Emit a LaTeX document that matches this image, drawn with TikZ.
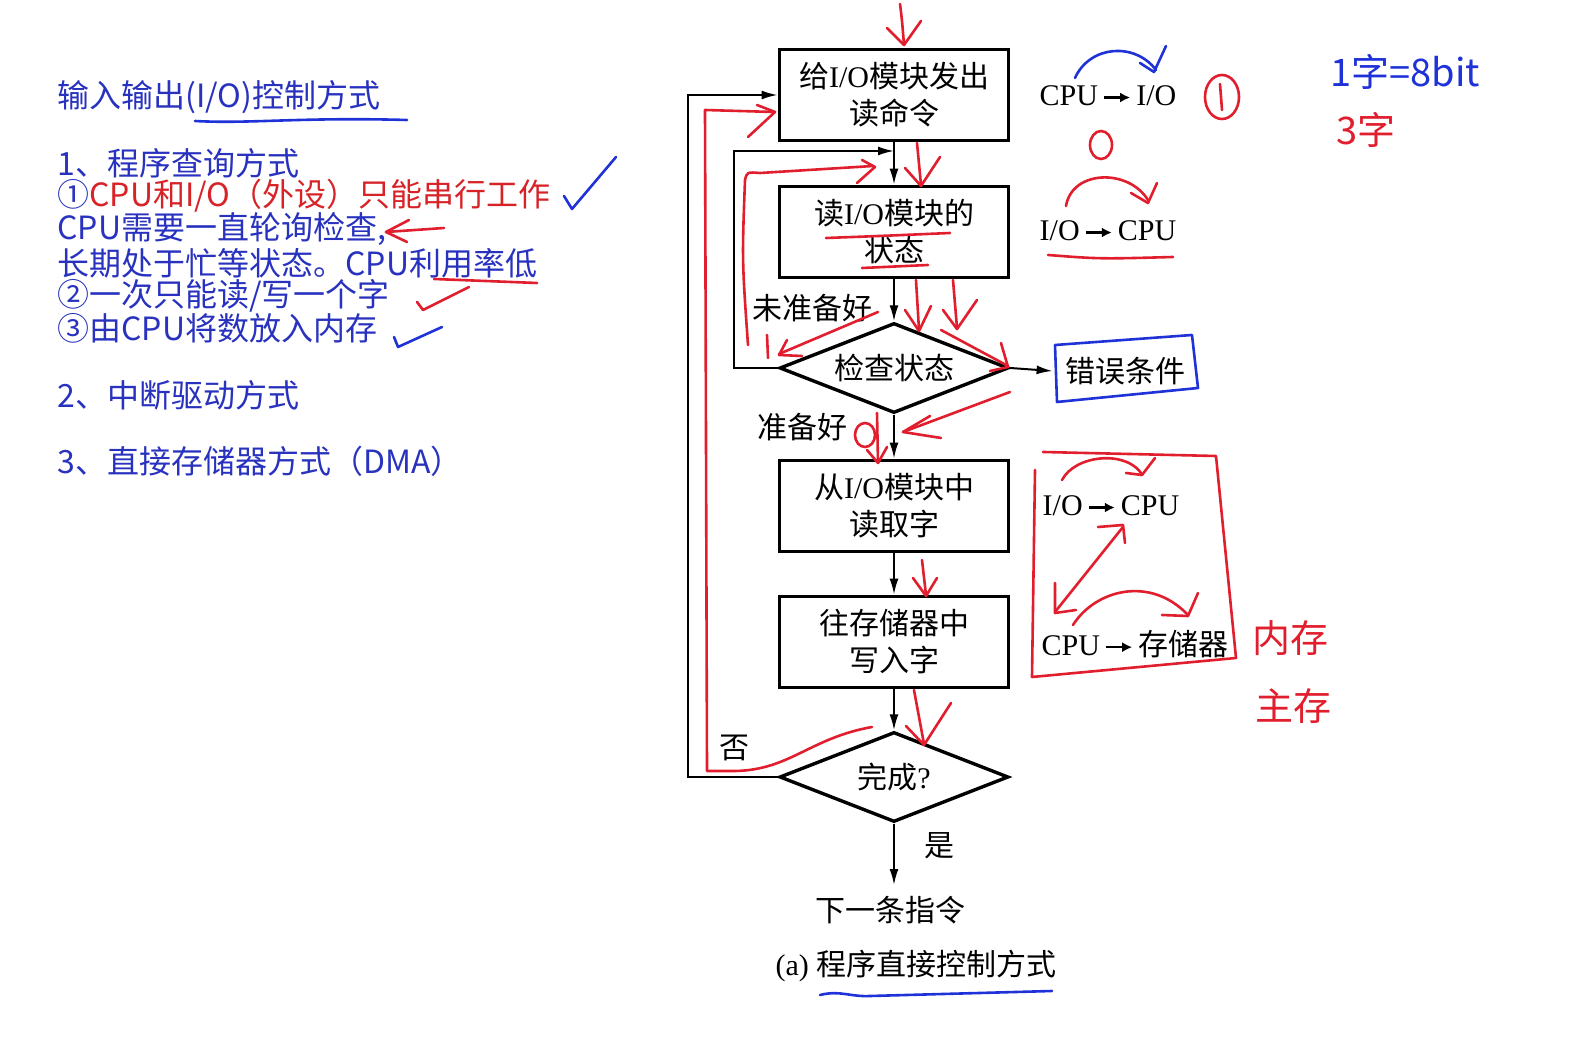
\documentclass[tikz,border=0pt]{standalone}
\usepackage{fontspec}
\setmainfont{Liberation Serif}
\newfontfamily\cjk{Noto Sans CJK SC}
\usetikzlibrary{arrows.meta,shapes.geometric}
\definecolor{penred}{RGB}{225,30,45}
\definecolor{penblue}{RGB}{30,50,215}
\definecolor{slideblue}{RGB}{40,50,190}
\definecolor{slidered}{RGB}{215,35,40}
\newcommand\zh[1]{{\cjk #1}}
\newcommand\toarr{\,\tikz[baseline=-0.6ex]\draw[line width=1.1pt,-{Latex[length=5pt,width=5pt]}] (0pt,0pt) -- (13pt,0pt);\,}

\begin{document}
\begin{tikzpicture}[x=0.5pt,y=-0.5pt,
  proc/.style={draw, line width=1.9pt, minimum width=114.5pt, minimum height=45.5pt,
    inner sep=0pt, align=center, font=\fontsize{15}{18.5}\selectfont},
  test/.style={draw, diamond, aspect=2.5, line width=1.7pt, minimum width=114.5pt,
    minimum height=45pt, inner sep=0pt, font=\fontsize{15}{18}\selectfont},
  flow/.style={line width=1pt, -{Latex[length=8pt,width=4.5pt]}},
  lbl/.style={font=\fontsize{15}{18}\selectfont, inner sep=0pt},
  note/.style={font=\fontsize{16}{18}\selectfont\cjk, text=slideblue, anchor=west, inner sep=0pt},
  hand/.style={font=\fontsize{19}{22}\selectfont\cjk, inner sep=0pt},
  pen/.style={penred, line width=1.3pt, line cap=round, line join=round}]
  \useasboundingbox (0,0) rectangle (1569,1063);

  % Left: slide text
  \node[note] (t0) at (57,97) {输入输出(I/O)控制方式};
  \node[note] (t1) at (57,163) {1、程序查询方式};
  \node[note] (t2) at (57,196) {①\textcolor{slidered}{CPU和I/O（外设）只能串行工作}};
  \node[note] (t3) at (57,229) {CPU需要一直轮询检查,};
  \node[note] (t4) at (57,263) {长期处于忙等状态。CPU利用率低};
  \node[note] (t5) at (57,296) {②一次只能读/写一个字};
  \node[note] (t6) at (57,328) {③由CPU将数放入内存};
  \node[note] (t7) at (57,395) {2、中断驱动方式};
  \node[note] (t8) at (57,461) {3、直接存储器方式（DMA）};

  % Flowchart
  \node[proc] (cmd) at (894,95) {\zh{给}I/O\zh{模块发出}\\\zh{读命令}};
  \node[proc] (stat) at (894,232) {\zh{读}I/O\zh{模块的}\\\zh{状态}};
  \node[test] (chk) at (894,368) {\zh{检查状态}};
  \node[lbl, inner sep=6pt] (err) at (1125,371) {\zh{错误条件}};
  \node[proc] (rd) at (894,506) {\zh{从}I/O\zh{模块中}\\\zh{读取字}};
  \node[proc] (wr) at (894,642) {\zh{往存储器中}\\\zh{写入字}};
  \node[test] (done) at (894,777) {\zh{完成}?};
  \node[lbl] (next) at (890,910) {\zh{下一条指令}};
  \node[lbl] (cap) at (916,966) {(a) \zh{程序直接控制方式}};
  \coordinate (join) at (894,151);

  \draw[flow] (cmd) -- (stat);
  \draw[flow] (stat) -- (chk);
  \draw[flow] (chk) -- (rd);
  \draw[flow] (rd) -- (wr);
  \draw[flow] (wr) -- (done);
  \draw[flow] (done.south) -- (done.south |- 0,885);
  \draw[flow] (chk.east) -- (err.west);
  \draw[flow] (chk.west) -- (734,368) |- (join);
  \draw[flow] (done.west) -- (688,777) |- (cmd.west);

  \node[lbl] (notok) at (812,308) {\zh{未准备好}};
  \node[lbl] (ok) at (802,427) {\zh{准备好}};
  \node[lbl] (no) at (734,748) {\zh{否}};
  \node[lbl] (yes) at (939,846) {\zh{是}};

  % Right: data paths
  \node[lbl] (p1) at (1108,96) {CPU\toarr I/O};
  \node[lbl] (p2) at (1108,231) {I/O\toarr CPU};
  \node[lbl] (p3) at (1111,506) {I/O\toarr CPU};
  \node[lbl] (p4) at (1135,644) {CPU\toarr\zh{存储器}};

  % Handwritten notes
  \node[hand, text=penblue] (w1) at (1405,72) {1字=8bit};
  \node[hand, text=penred] (w2) at (1366,130) {3字};
  \node[hand, text=penred] (w3) at (1290,638) {内存};
  \node[hand, text=penred] (w4) at (1293,706) {主存};

  % pen strokes, left
  \draw[pen,penblue] (195,121) .. controls (250,124) and (300,117) .. (407,120);
  \draw[pen,penblue] (564,196) -- (572,209) -- (616,157);
  \draw[pen] (444,228) -- (386,232);
  \draw[pen] (409,220) -- (386,232) -- (407,242);
  \draw[pen] (434,279) -- (537,283);
  \draw[pen] (417,302) -- (423,310) -- (469,287);
  \draw[pen,penblue] (394,337) -- (398,347) -- (442,327);

  % pen strokes, flowchart
  \draw[pen] (900,4) .. controls (902,20) .. (904,45);
  \draw[pen] (887,28) -- (904,45) -- (921,21);
  \draw[pen] (917,143) -- (921,185);
  \draw[pen] (905,168) -- (921,186) -- (940,157);
  \draw[pen] (826,238) .. controls (880,236) .. (950,233);
  \draw[pen] (862,268) -- (928,265);
  \draw[pen] (872,727) .. controls (810,738) and (790,770) .. (735,771) -- (707,771) -- (705,110) -- (774,112);
  \draw[pen] (757,105) -- (775,112) -- (748,137);
  \draw[pen] (748,345) .. controls (742,260) .. (745,180) .. controls (747,172) .. (760,173) -- (873,166);
  \draw[pen] (862,160) -- (875,167) -- (857,183);
  \draw[pen] (767,335) -- (768,358);
  \draw[pen] (916,280) -- (919,330);
  \draw[pen] (905,310) -- (919,331) -- (931,306);
  \draw[pen] (953,280) -- (957,328);
  \draw[pen] (943,310) -- (957,329) -- (977,300);
  \draw[pen] (878,312) -- (779,354);
  \draw[pen] (787,340) -- (779,355) -- (802,356);
  \draw[pen] (941,330) -- (1008,366);
  \draw[pen] (1001,343) -- (1008,367) -- (990,371);
  \draw[pen] (1010,392) -- (903,432);
  \draw[pen] (930,416) -- (903,432) -- (941,438);
  \draw[pen] (865,435) ellipse [x radius=5pt, y radius=6pt];
  \draw[pen] (877,413) -- (878,462);
  \draw[pen] (867,450) -- (878,463) -- (887,447);
  \draw[pen] (922,560) -- (926,595);
  \draw[pen] (913,578) -- (926,596) -- (937,578);
  \draw[pen] (914,690) -- (924,744);
  \draw[pen] (906,726) -- (924,745) -- (951,703);
  \draw[pen,penblue] (1055,345) -- (1192,335) -- (1198,388) -- (1057,402) -- cycle;
  \draw[pen,penblue] (820,995) .. controls (840,990) and (850,997) .. (870,996) -- (1052,991);

  % pen strokes, right
  \draw[pen,penblue] (1075,78) .. controls (1090,45) and (1135,42) .. (1156,70);
  \draw[pen,penblue] (1140,63) -- (1154,72) -- (1166,46);
  \draw[pen] (1222,97) ellipse [x radius=8.5pt, y radius=11pt];
  \draw[pen] (1220,84) -- (1222,110);
  \draw[pen] (1101,145) ellipse [x radius=5.5pt, y radius=7pt];
  \draw[pen] (1066,206) .. controls (1072,170) and (1128,168) .. (1148,200);
  \draw[pen] (1131,193) -- (1148,203) -- (1157,183);
  \draw[pen] (1048,255) .. controls (1100,259) .. (1173,257);
  \draw[pen] (1043,452) -- (1216,456) -- (1236,658) -- (1032,677) -- (1035,470);
  \draw[pen] (1062,480) .. controls (1075,455) and (1125,450) .. (1141,473);
  \draw[pen] (1126,473) -- (1142,475) -- (1155,458);
  \draw[pen] (1055,612) -- (1123,527);
  \draw[pen] (1098,527) -- (1123,525) -- (1125,543);
  \draw[pen] (1055,583) -- (1055,613) -- (1076,610);
  \draw[pen] (1073,625) .. controls (1095,590) and (1150,575) .. (1188,615);
  \draw[pen] (1162,615) -- (1188,616) -- (1198,593);
\end{tikzpicture}
\end{document}
